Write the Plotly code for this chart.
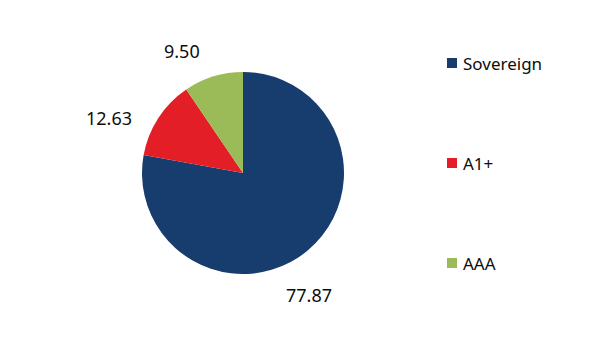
import math
import plotly.graph_objects as go

# ---- data ----
categories = ["Sovereign", "A1+", "AAA"]
values = [77.87, 12.63, 9.50]
colors = ["#173C6E", "#E31E26", "#9BBB59"]

# ---- layout constants ----
W, H = 614, 364
CX, CY, R = 243, 173, 101          # pie centre / radius in pixels
FONT = "Noto Sans"
FS = 18
# label placement: angle nudge (deg) and radial factor (Excel best-fit look)
label_nudge = [11.5, -10.7, -9.6]
label_rfac = [1.37, 1.44, 1.35]
legend_x = 447
legend_y = [63, 163, 263]
sq = 10

fig = go.Figure()
fig.add_trace(go.Pie(
    labels=categories, values=values,
    marker=dict(colors=colors, line=dict(width=0)),
    sort=False, direction="clockwise", rotation=0,
    textinfo="none", hoverinfo="label+value",
    domain=dict(x=[(CX - R) / W, (CX + R) / W], y=[1 - (CY + R) / H, 1 - (CY - R) / H]),
    showlegend=False,
))

total = sum(values)
annotations = []
shapes = []
cum = 0
for i, (cat, v) in enumerate(zip(categories, values)):
    mid = (cum + v / 2) / total * 360
    cum += v
    ang = math.radians(mid + label_nudge[i])
    px = CX + R * label_rfac[i] * math.sin(ang)
    py = CY - R * label_rfac[i] * math.cos(ang)
    annotations.append(dict(
        x=px / W, y=1 - py / H, xref="paper", yref="paper",
        text=f"{v:.2f}", showarrow=False, xanchor="center", yanchor="middle",
        font=dict(family=FONT, size=FS, color="#0d0d0d"),
    ))
    # manual legend
    ly = legend_y[i]
    shapes.append(dict(
        type="rect", xref="paper", yref="paper",
        x0=legend_x / W, x1=(legend_x + sq) / W,
        y0=1 - (ly + sq / 2) / H, y1=1 - (ly - sq / 2) / H,
        fillcolor=colors[i], line=dict(width=0),
    ))
    annotations.append(dict(
        x=(legend_x + sq + 4) / W, y=1 - ly / H, xref="paper", yref="paper",
        text=cat, showarrow=False, xanchor="left", yanchor="middle",
        font=dict(family=FONT, size=FS - 1, color="#0d0d0d"),
    ))

fig.update_layout(
    width=W, height=H,
    margin=dict(l=0, r=0, t=0, b=0),
    paper_bgcolor="white", plot_bgcolor="white",
    annotations=annotations, shapes=shapes,
    showlegend=False,
)
fig.write_html(
    "out.html",
    config={"displayModeBar": False},
    post_script="document.body.style.margin='0';document.body.style.overflow='hidden';",
)
